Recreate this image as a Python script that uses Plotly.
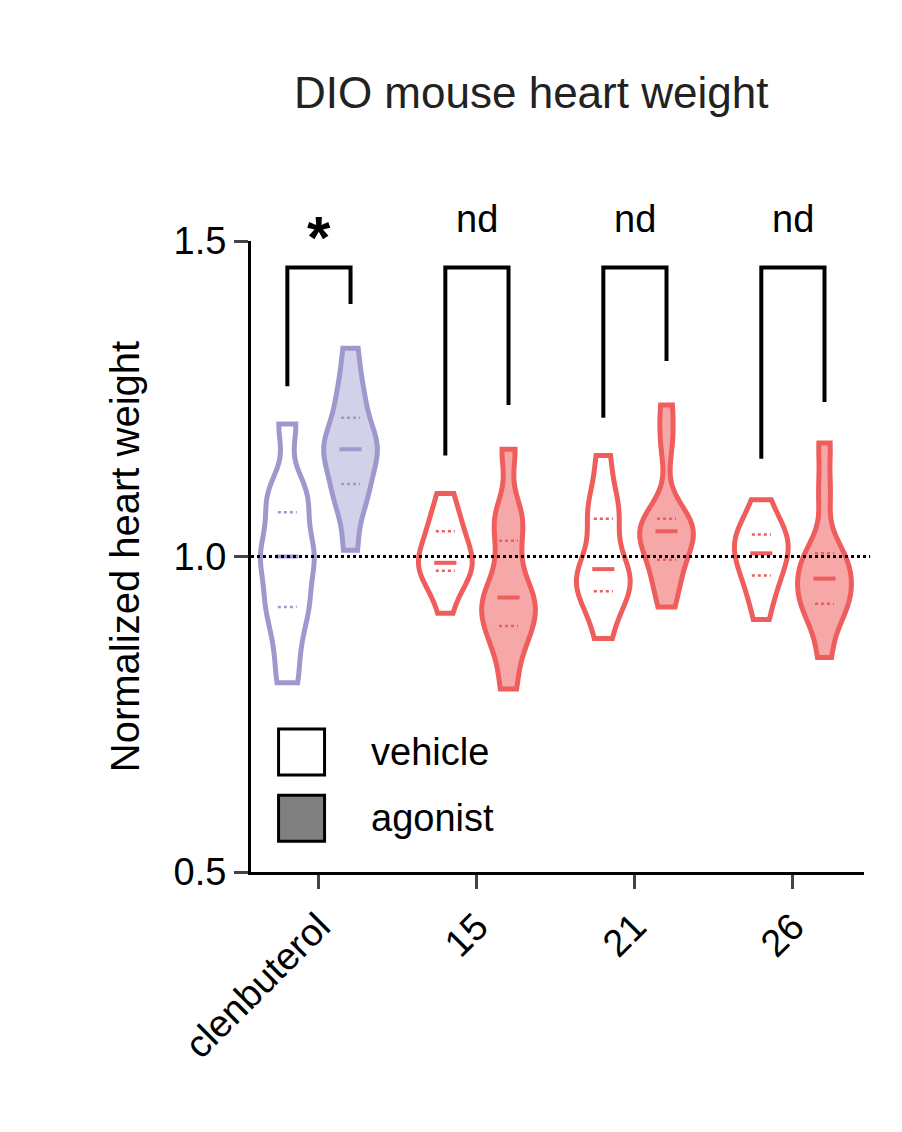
import numpy as np
import plotly.graph_objects as go

groups = ['clenbuterol', '15', '21', '26']
vehicle = [
    [0.80, 0.86, 0.91, 0.93, 0.97, 1.00, 1.01, 1.05, 1.09, 1.11, 1.21],
    [0.91, 0.96, 0.975, 0.98, 0.99, 0.99, 1.00, 1.03, 1.05, 1.06, 1.10],
    [0.87, 0.92, 0.94, 0.95, 0.97, 0.98, 1.00, 1.05, 1.07, 1.10, 1.16],
    [0.90, 0.94, 0.96, 0.98, 1.00, 1.005, 1.02, 1.03, 1.04, 1.05, 1.09],
]
agonist = [
    [1.01, 1.08, 1.10, 1.13, 1.16, 1.17, 1.18, 1.20, 1.24, 1.27, 1.33],
    [0.79, 0.85, 0.88, 0.90, 0.92, 0.935, 0.95, 1.00, 1.05, 1.07, 1.17],
    [0.92, 0.96, 0.98, 1.01, 1.03, 1.04, 1.045, 1.05, 1.07, 1.18, 1.24],
    [0.84, 0.90, 0.92, 0.93, 0.95, 0.965, 0.98, 1.00, 1.01, 1.10, 1.18],
]
line_colors = ['#9d99cd', '#ef5d5d', '#ef5d5d', '#ef5d5d']
fill_colors = ['#d3d0ea', '#f6a8a8', '#f6a8a8', '#f6a8a8']
bracket_left = [1.27, 1.16, 1.22, 1.155]
bracket_right = [1.40, 1.24, 1.31, 1.245]
sig_labels = ['*', 'nd', 'nd', 'nd']

fig = go.Figure()
off = 0.2
for i, g in enumerate(groups):
    for vals, dx, fill in [(vehicle[i], -off, 'white'), (agonist[i], off, fill_colors[i])]:
        x0 = i + dx
        fig.add_trace(go.Violin(
            x=[x0] * len(vals), y=vals, width=0.34, spanmode='hard', bandwidth=0.035,
            line=dict(color=line_colors[i], width=5), fillcolor=fill,
            points=False, box_visible=False, meanline_visible=False,
            showlegend=False, hoverinfo='skip', opacity=1))
        q1, med, q3 = np.percentile(vals, [25, 50, 75])
        fig.add_trace(go.Scatter(x=[x0 - 0.07, x0 + 0.07], y=[med, med], mode='lines',
                                 line=dict(color=line_colors[i], width=4), showlegend=False))
        for q in (q1, q3):
            fig.add_trace(go.Scatter(x=[x0 - 0.06, x0 + 0.06], y=[q, q], mode='lines',
                                     line=dict(color=line_colors[i], width=2.5, dash='dot'),
                                     showlegend=False))
    top = 1.458
    fig.add_trace(go.Scatter(x=[i - off, i - off, i + off, i + off],
                             y=[bracket_left[i], top, top, bracket_right[i]],
                             mode='lines', line=dict(color='black', width=4),
                             showlegend=False, cliponaxis=False))
    is_nd = sig_labels[i] == 'nd'
    fig.add_annotation(x=i, xref='x', yref='paper', y=1.035 if is_nd else 1.005,
                       text=sig_labels[i] if is_nd else '<b>*</b>',
                       showarrow=False, font=dict(size=38 if is_nd else 60, color='black'),
                       yanchor='middle')

# legend boxes
fig.add_trace(go.Scatter(x=[-0.11, -0.11], y=[0.69, 0.585], mode='markers',
                         marker=dict(symbol='square', size=46, color=['white', '#808080'],
                                     line=dict(color='black', width=3)),
                         showlegend=False, cliponaxis=False))
fig.add_annotation(x=0.32, y=0.69, text='vehicle', showarrow=False, xanchor='left',
                   font=dict(size=38, color='black'))
fig.add_annotation(x=0.32, y=0.585, text='agonist', showarrow=False, xanchor='left',
                   font=dict(size=38, color='black'))

fig.add_shape(type='line', xref='paper', x0=0, x1=1.01, y0=1, y1=1,
              line=dict(color='black', width=3, dash='dot'))

fig.update_layout(
    width=902, height=1132, plot_bgcolor='white', paper_bgcolor='white',
    margin=dict(l=243, r=46, t=233, b=268),
    font=dict(family='Liberation Sans, Arial, sans-serif', color='black', size=38),
    title=dict(text='DIO mouse heart weight', x=0.58, xanchor='center', y=0.925,
               yanchor='middle', font=dict(size=44, color='#222222')),
    xaxis=dict(range=[-0.43, 3.45], tickvals=[0, 1, 2, 3], ticktext=groups, tickangle=-45,
               showline=True, linecolor='black', linewidth=3, ticks='outside', ticklen=14,
               tickwidth=3, showgrid=False, zeroline=False, tickfont=dict(size=38)),
    yaxis=dict(range=[0.5, 1.5], tickvals=[0.5, 1.0, 1.5], ticktext=['0.5', '1.0', '1.5'],
               showline=True, linecolor='black', linewidth=3, ticks='outside', ticklen=14,
               tickwidth=3, showgrid=False, zeroline=False, tickfont=dict(size=38),
               title=dict(text='Normalized heart weight', font=dict(size=40), standoff=22)),
)

fig.write_html('out.html')
